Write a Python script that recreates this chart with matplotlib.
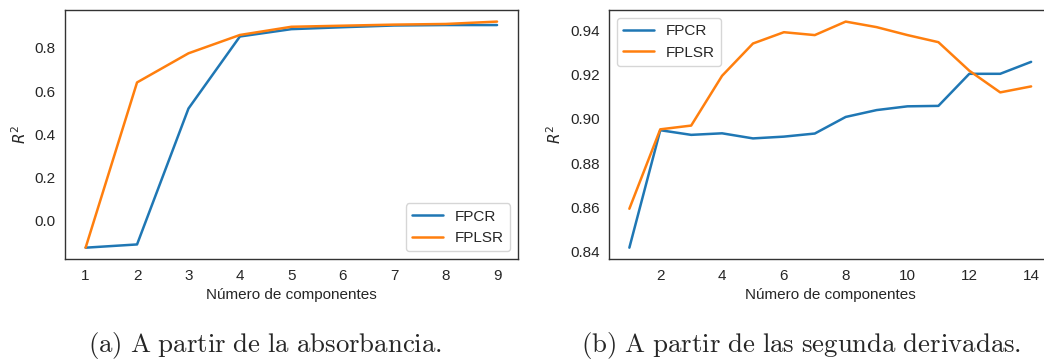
import matplotlib
matplotlib.use("Agg")
import matplotlib.pyplot as plt
import seaborn as sns

# absorbancia
comp_a = [1, 2, 3, 4, 5, 6, 7, 8, 9]
fpcr_a = [-0.126, -0.111, 0.519, 0.853, 0.887, 0.896, 0.904, 0.906, 0.906]
fplsr_a = [-0.126, 0.640, 0.775, 0.860, 0.898, 0.903, 0.908, 0.911, 0.922]

# segunda derivada
comp_b = [1, 2, 3, 4, 5, 6, 7, 8, 9, 10, 11, 12, 13, 14]
fpcr_b = [0.8418, 0.8949, 0.8928, 0.8935, 0.8912, 0.8920, 0.8934,
          0.9009, 0.9040, 0.9057, 0.9059, 0.9204, 0.9204, 0.9258]
fplsr_b = [0.8594, 0.8953, 0.8970, 0.9195, 0.9341, 0.9392, 0.9379,
           0.9440, 0.9415, 0.9379, 0.9347, 0.9218, 0.9120, 0.9147]

captions = ["(a) A partir de la absorbancia.", "(b) A partir de las segunda derivadas."]

sns.set_style("white")
plt.rcParams['font.family'] = ['Liberation Sans', 'DejaVu Sans']
plt.rcParams['axes.edgecolor'] = '0.2'
plt.rcParams['axes.linewidth'] = 1.0

fig = plt.figure(figsize=(10.44, 3.6), dpi=100)
ax1 = fig.add_axes([0.0623, 0.2806, 0.4335, 0.6908])
ax2 = fig.add_axes([0.5836, 0.2806, 0.4233, 0.6908])

ax1.plot(comp_a, fpcr_a, color='#1f77b4', lw=1.8, label="FPCR")
ax1.plot(comp_a, fplsr_a, color='#ff7f0e', lw=1.8, label="FPLSR")
ax1.set_xticks(comp_a)
ax1.set_yticks([0.0, 0.2, 0.4, 0.6, 0.8])
ax1.legend(loc='lower right', fontsize=11)

ax2.plot(comp_b, fpcr_b, color='#1f77b4', lw=1.8, label="FPCR")
ax2.plot(comp_b, fplsr_b, color='#ff7f0e', lw=1.8, label="FPLSR")
ax2.set_xticks([2, 4, 6, 8, 10, 12, 14])
ax2.set_yticks([0.84, 0.86, 0.88, 0.90, 0.92, 0.94])
ax2.legend(loc='upper left', fontsize=11)

for ax in (ax1, ax2):
    ax.set_xlabel("Número de componentes", fontsize=11)
    ax.set_ylabel(r"$R^2$", fontsize=11)
    ax.tick_params(labelsize=11)

# captions under each panel
for x, cap in zip([0.2534, 0.7671], captions):
    fig.text(x, 0.0214, r"$\mathrm{" + cap.replace(" ", r"\ ") + "}$",
             ha='center', va='baseline', fontsize=19.3, math_fontfamily='cm')

fig.savefig("out.png", dpi=100)
